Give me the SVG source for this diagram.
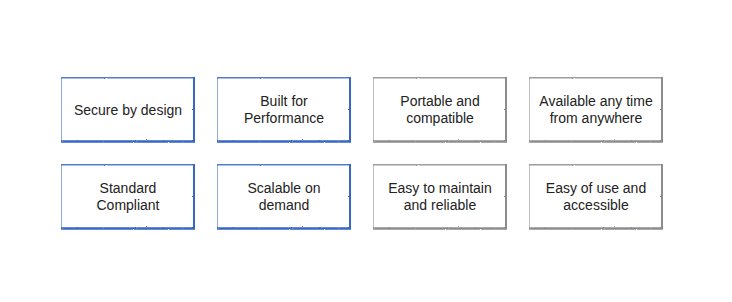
<svg xmlns="http://www.w3.org/2000/svg" width="732" height="302" viewBox="0 0 732 302">
  <defs>
    <!-- rough, pencil-like edge texture for the card outlines -->
    <filter id="rough" x="-5%" y="-10%" width="110%" height="120%">
      <feTurbulence type="fractalNoise" baseFrequency="0.9" numOctaves="2" seed="3" result="noise"/>
      <feDisplacementMap in="SourceGraphic" in2="noise" scale="1.6" xChannelSelector="R" yChannelSelector="G"/>
    </filter>
    <!-- one card outline: thin left edge, heavier right and bottom edges -->
    <g id="frame">
      <line x1="0.5" y1="1" x2="0.5" y2="65" stroke-width="1" opacity="0.55"/>
      <line x1="0" y1="0.8" x2="134" y2="0.8" stroke-width="1.6" opacity="0.85"/>
      <line x1="133" y1="0" x2="133" y2="65" stroke-width="2"/>
      <line x1="0" y1="64.5" x2="134" y2="64.5" stroke-width="2.6"/>
    </g>
  </defs>
  <style>
    .blue { stroke: #3766c3; }
    .gray { stroke: #8c8c8c; }
    .label { font-family: "Liberation Sans", Arial, Helvetica, sans-serif; font-size: 14px; fill: #222222; text-anchor: middle; }
  </style>
  <rect width="732" height="302" fill="#ffffff"/>

  <g id="secure-by-design">
    <use href="#frame" x="61" y="77" class="blue" filter="url(#rough)"/>
    <text class="label" x="128" y="115">Secure by design</text>
  </g>
  <g id="built-for-performance">
    <use href="#frame" x="217" y="77" class="blue" filter="url(#rough)"/>
    <text class="label" x="284" y="106">Built for</text>
    <text class="label" x="284" y="123">Performance</text>
  </g>
  <g id="portable-and-compatible">
    <use href="#frame" x="373" y="77" class="gray" filter="url(#rough)"/>
    <text class="label" x="440" y="106">Portable and</text>
    <text class="label" x="440" y="123">compatible</text>
  </g>
  <g id="available-any-time">
    <use href="#frame" x="529" y="77" class="gray" filter="url(#rough)"/>
    <text class="label" x="596" y="106">Available any time</text>
    <text class="label" x="596" y="123">from anywhere</text>
  </g>

  <g id="standard-compliant">
    <use href="#frame" x="61" y="164" class="blue" filter="url(#rough)"/>
    <text class="label" x="128" y="193">Standard</text>
    <text class="label" x="128" y="210">Compliant</text>
  </g>
  <g id="scalable-on-demand">
    <use href="#frame" x="217" y="164" class="blue" filter="url(#rough)"/>
    <text class="label" x="284" y="193">Scalable on</text>
    <text class="label" x="284" y="210">demand</text>
  </g>
  <g id="easy-to-maintain">
    <use href="#frame" x="373" y="164" class="gray" filter="url(#rough)"/>
    <text class="label" x="440" y="193">Easy to maintain</text>
    <text class="label" x="440" y="210">and reliable</text>
  </g>
  <g id="easy-of-use">
    <use href="#frame" x="529" y="164" class="gray" filter="url(#rough)"/>
    <text class="label" x="596" y="193">Easy of use and</text>
    <text class="label" x="596" y="210">accessible</text>
  </g>

  <g id="connectors"/>
</svg>
